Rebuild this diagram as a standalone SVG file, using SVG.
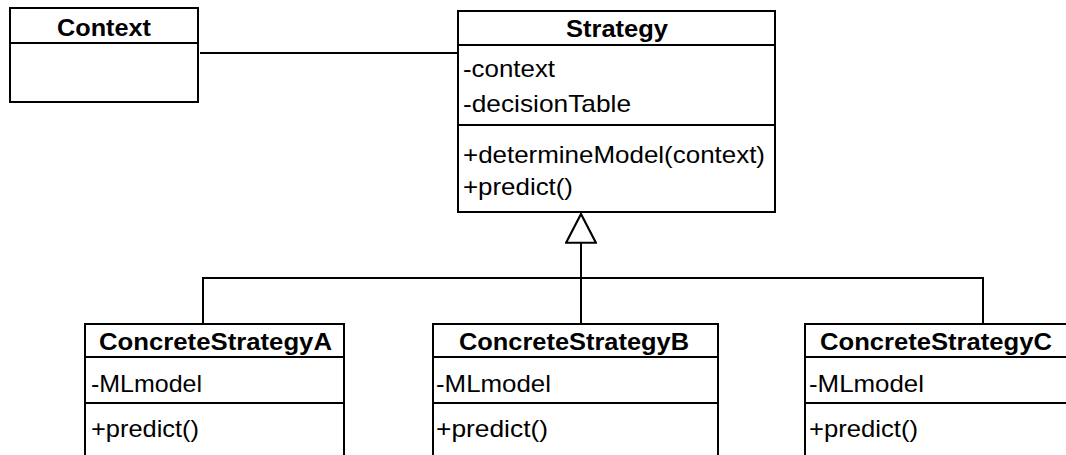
<svg xmlns="http://www.w3.org/2000/svg" width="1066" height="455" viewBox="0 0 1066 455">
<style>
.box{fill:#fff;stroke:#000;stroke-width:2}
.div{stroke:#000;stroke-width:2}
.t{font-family:"Liberation Sans",Arial,sans-serif;font-size:24px;fill:#000}
.b{font-weight:bold;text-anchor:middle;font-size:23px}
.c{fill:none;stroke:#000;stroke-width:2}
</style>
<defs>
<marker id="gen" markerUnits="userSpaceOnUse" markerWidth="32" markerHeight="32" viewBox="0 0 30 30" refX="28" refY="15" orient="auto">
<path d="M28 15 L1 1 L1 29 Z" fill="#fff" stroke="#000" stroke-width="2"/>
</marker>
</defs>
<rect width="1066" height="455" fill="#fff"/>
<g id="connectors">
<path class="c" d="M200 53 H458"/>
<path class="c" d="M203 324 V278 H983 V324"/>
<path class="c" d="M581 324 V278"/>
<path class="c" d="M581 278 V214" marker-end="url(#gen)"/>
</g>
<g id="context">
<rect class="box" x="10" y="8" width="188" height="94"/>
<line class="div" x1="10" y1="43" x2="198" y2="43"/>
<text class="t b" x="104" y="36" textLength="94" lengthAdjust="spacingAndGlyphs">Context</text>
</g>
<g id="strategy">
<rect class="box" x="458" y="11" width="317" height="201"/>
<line class="div" x1="458" y1="45" x2="775" y2="45"/>
<line class="div" x1="458" y1="125" x2="775" y2="125"/>
<text class="t b" x="617" y="37" textLength="102" lengthAdjust="spacingAndGlyphs">Strategy</text>
<text class="t" x="463" y="77" textLength="92" lengthAdjust="spacingAndGlyphs">-context</text>
<text class="t" x="463" y="112" textLength="168" lengthAdjust="spacingAndGlyphs">-decisionTable</text>
<text class="t" x="463" y="163" textLength="302" lengthAdjust="spacingAndGlyphs">+determineModel(context)</text>
<text class="t" x="463" y="195" textLength="110" lengthAdjust="spacingAndGlyphs">+predict()</text>
</g>
<g id="concreteA">
<rect class="box" x="85" y="324" width="259" height="140"/>
<line class="div" x1="85" y1="357" x2="344" y2="357"/>
<line class="div" x1="85" y1="403" x2="344" y2="403"/>
<text class="t b" x="215.5" y="350" textLength="233" lengthAdjust="spacingAndGlyphs">ConcreteStrategyA</text>
<text class="t" x="91" y="392" textLength="111" lengthAdjust="spacingAndGlyphs">-MLmodel</text>
<text class="t" x="91" y="437" textLength="108" lengthAdjust="spacingAndGlyphs">+predict()</text>
</g>
<g id="concreteB">
<rect class="box" x="433" y="324" width="285" height="140"/>
<line class="div" x1="433" y1="357" x2="718" y2="357"/>
<line class="div" x1="433" y1="403" x2="718" y2="403"/>
<text class="t b" x="574" y="350" textLength="230" lengthAdjust="spacingAndGlyphs">ConcreteStrategyB</text>
<text class="t" x="436" y="392" textLength="115" lengthAdjust="spacingAndGlyphs">-MLmodel</text>
<text class="t" x="436" y="437" textLength="112" lengthAdjust="spacingAndGlyphs">+predict()</text>
</g>
<g id="concreteC">
<rect class="box" x="805" y="324" width="270" height="140"/>
<line class="div" x1="805" y1="357" x2="1075" y2="357"/>
<line class="div" x1="805" y1="403" x2="1075" y2="403"/>
<text class="t b" x="936" y="350" textLength="232" lengthAdjust="spacingAndGlyphs">ConcreteStrategyC</text>
<text class="t" x="809" y="392" textLength="115" lengthAdjust="spacingAndGlyphs">-MLmodel</text>
<text class="t" x="809" y="437" textLength="109" lengthAdjust="spacingAndGlyphs">+predict()</text>
</g>
</svg>
